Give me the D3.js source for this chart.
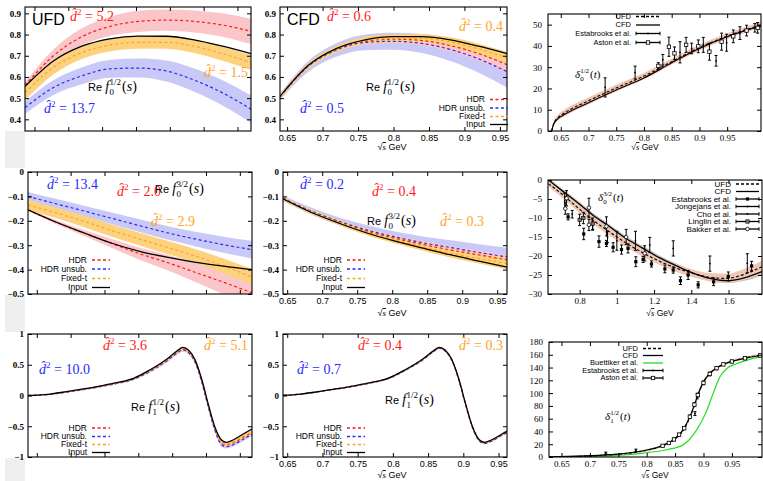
<!DOCTYPE html>
<html>
<head>
<meta charset="utf-8">
<script src="https://cdn.jsdelivr.net/npm/d3@7"></script>
<style>
body { margin: 0; background: #fff; }
svg { display: block; }
</style>
</head>
<body>
<div id="chart"></div>
<script>
// ---------- data: Re f0^1/2, UFD (top left) ----------
var p1X = [0.636, 0.678, 0.72, 0.761, 0.803, 0.845, 0.886, 0.928, 0.97];
var p1Input = [0.555, 0.675, 0.745, 0.78, 0.793, 0.792, 0.775, 0.745, 0.71];
var p1HDR = [0.56, 0.70, 0.79, 0.838, 0.862, 0.868, 0.862, 0.845, 0.815];
var p1HDRerr = [0.015, 0.03, 0.04, 0.045, 0.05, 0.05, 0.052, 0.055, 0.06];
var p1Unsub = [0.455, 0.55, 0.605, 0.638, 0.642, 0.628, 0.585, 0.525, 0.448];
var p1UnsubErr = [0.03, 0.035, 0.04, 0.042, 0.045, 0.05, 0.055, 0.06, 0.065];
var p1Fixed = [0.525, 0.645, 0.715, 0.75, 0.763, 0.763, 0.745, 0.71, 0.668];
var p1FixedErr = [0.035, 0.033, 0.03, 0.03, 0.03, 0.03, 0.032, 0.034, 0.035];

// ---------- Re f0^1/2, CFD (top middle) ----------
var p2X = [0.64, 0.68, 0.72, 0.76, 0.80, 0.84, 0.88, 0.92, 0.96];
var p2Input = [0.508, 0.655, 0.735, 0.775, 0.79, 0.79, 0.775, 0.745, 0.71];
var p2HDR = [0.506, 0.652, 0.73, 0.768, 0.778, 0.772, 0.748, 0.71, 0.658];
var p2HDRerr = [0.008, 0.01, 0.012, 0.015, 0.018, 0.022, 0.028, 0.034, 0.04];
var p2Unsub = [0.505, 0.65, 0.728, 0.763, 0.768, 0.758, 0.73, 0.685, 0.625];
var p2UnsubErr = [0.015, 0.025, 0.032, 0.037, 0.04, 0.045, 0.055, 0.065, 0.075];
var p2Fixed = [0.504, 0.652, 0.732, 0.772, 0.782, 0.782, 0.765, 0.732, 0.69];
var p2FixedErr = [0.01, 0.012, 0.015, 0.017, 0.018, 0.02, 0.022, 0.025, 0.028];

// ---------- Re f0^3/2, UFD (middle left) ----------
var p4X = [0.637, 0.678, 0.72, 0.761, 0.802, 0.844, 0.885, 0.926, 0.968];
var p4Input = [-0.155, -0.205, -0.25, -0.292, -0.325, -0.35, -0.37, -0.386, -0.4];
var p4HDR = [-0.155, -0.205, -0.25, -0.293, -0.335, -0.372, -0.412, -0.452, -0.495];
var p4HDRerr = [0.005, 0.008, 0.012, 0.018, 0.025, 0.032, 0.04, 0.05, 0.06];
var p4Unsub = [-0.1, -0.13, -0.16, -0.19, -0.22, -0.25, -0.275, -0.298, -0.318];
var p4UnsubErr = [0.018, 0.02, 0.022, 0.024, 0.026, 0.028, 0.03, 0.033, 0.036];
var p4Fixed = [-0.135, -0.167, -0.202, -0.24, -0.275, -0.31, -0.345, -0.385, -0.43];
var p4FixedErr = [0.022, 0.022, 0.024, 0.025, 0.026, 0.027, 0.028, 0.03, 0.032];

// ---------- Re f0^3/2, CFD (middle middle) ----------
var p5X = [0.644, 0.684, 0.724, 0.764, 0.804, 0.844, 0.884, 0.924, 0.964];
var p5Input = [-0.11, -0.165, -0.21, -0.25, -0.283, -0.312, -0.34, -0.365, -0.39];
var p5HDR = [-0.108, -0.162, -0.205, -0.243, -0.272, -0.297, -0.32, -0.34, -0.36];
var p5HDRerr = [0.005, 0.006, 0.008, 0.01, 0.012, 0.014, 0.016, 0.018, 0.02];
var p5Unsub = [-0.108, -0.16, -0.202, -0.238, -0.266, -0.29, -0.31, -0.33, -0.348];
var p5UnsubErr = [0.012, 0.014, 0.016, 0.02, 0.022, 0.026, 0.03, 0.034, 0.038];
var p5Fixed = [-0.11, -0.163, -0.207, -0.247, -0.279, -0.307, -0.333, -0.355, -0.375];
var p5FixedErr = [0.008, 0.009, 0.01, 0.012, 0.014, 0.016, 0.018, 0.02, 0.024];

// ---------- Re f1^1/2 (bottom left = UFD, bottom middle = CFD) ----------
var f1X = [0.637, 0.67, 0.694, 0.719, 0.743, 0.768, 0.793, 0.817, 0.842, 0.856, 0.866, 0.874, 0.884, 0.894, 0.903, 0.913, 0.923, 0.93, 0.94, 0.955, 0.968];
var f1Input = [0, 0.024, 0.062, 0.106, 0.154, 0.208, 0.28, 0.415, 0.589, 0.713, 0.784, 0.74, 0.577, 0.252, -0.127, -0.507, -0.724, -0.762, -0.724, -0.626, -0.545];
var p7HDR = [0, 0.022, 0.058, 0.1, 0.148, 0.2, 0.27, 0.4, 0.57, 0.69, 0.755, 0.71, 0.55, 0.23, -0.15, -0.54, -0.77, -0.8, -0.77, -0.68, -0.6];
var p7Unsub = [0, 0.02, 0.055, 0.097, 0.143, 0.195, 0.265, 0.39, 0.56, 0.68, 0.74, 0.70, 0.54, 0.21, -0.17, -0.56, -0.8, -0.83, -0.8, -0.71, -0.63];
var p7Fixed = [0, 0.023, 0.06, 0.103, 0.15, 0.204, 0.275, 0.405, 0.578, 0.70, 0.765, 0.72, 0.56, 0.24, -0.14, -0.53, -0.76, -0.79, -0.76, -0.665, -0.59];
var p7Err = [0.004, 0.006, 0.008, 0.01, 0.012, 0.014, 0.016, 0.02, 0.025, 0.028, 0.03, 0.03, 0.03, 0.03, 0.03, 0.03, 0.03, 0.03, 0.03, 0.03, 0.03];
var p8HDR = [0, 0.024, 0.061, 0.105, 0.152, 0.206, 0.277, 0.41, 0.582, 0.705, 0.775, 0.733, 0.57, 0.245, -0.135, -0.515, -0.735, -0.772, -0.735, -0.638, -0.558];
var p8Unsub = [0, 0.023, 0.06, 0.103, 0.15, 0.203, 0.273, 0.405, 0.575, 0.698, 0.768, 0.725, 0.562, 0.238, -0.143, -0.522, -0.742, -0.78, -0.742, -0.645, -0.565];
var p8Fixed = [0, 0.024, 0.062, 0.106, 0.154, 0.207, 0.279, 0.413, 0.586, 0.71, 0.78, 0.737, 0.574, 0.249, -0.13, -0.51, -0.728, -0.766, -0.729, -0.63, -0.55];
var p8Err = [0.003, 0.004, 0.005, 0.006, 0.007, 0.008, 0.009, 0.01, 0.012, 0.014, 0.015, 0.015, 0.015, 0.015, 0.015, 0.015, 0.015, 0.015, 0.015, 0.015, 0.015];

// ---------- delta0^1/2 phase (top right) ----------
var p3X = [0.6335, 0.637, 0.645, 0.655, 0.70, 0.75, 0.80, 0.85, 0.90, 0.95, 1.011];
var p3CFD = [0, 3.0, 5.8, 7.5, 13.3, 19.3, 24.9, 32.1, 38.8, 44.3, 49.4];
var p3UFD = [0, 3.3, 6.3, 8.2, 14.2, 20.2, 25.8, 32.6, 39.2, 44.6, 49.8];
var p3Err = [0.3, 1, 1.3, 1.5, 1.6, 1.6, 1.5, 1.4, 1.3, 1.3, 1.3];
var p3Estab = [[0.73, 20.5, 4.5], [0.784, 27.5, 3], [0.834, 33.5, 2.5], [0.865, 37, 5], [0.886, 38.8, 2.5], [0.907, 40.5, 3.5], [0.93, 33, 2.5], [0.949, 41.5, 4], [0.973, 46, 3], [1.0, 48.5, 2]];
var p3Aston = [[0.826, 30.6, 1.5], [0.845, 39.6, 4.5], [0.855, 36.5, 3], [0.876, 40.5, 3.5], [0.898, 39.8, 3], [0.918, 37.3, 4], [0.94, 42, 4], [0.961, 44.5, 3], [0.985, 47.2, 2.5], [1.005, 48.5, 2.5]];

// ---------- delta0^3/2 phase (middle right) ----------
var p6X = [0.633, 0.7, 0.783, 0.87, 0.962, 1.05, 1.141, 1.23, 1.321, 1.41, 1.5, 1.59, 1.68, 1.78];
var p6CFD = [0, -2.6, -5.7, -9.2, -12.3, -15.4, -18, -20.5, -22.6, -24.5, -25.9, -26.5, -25.8, -24.1];
var p6UFD = [-1.0, -3.5, -7, -10.5, -13.7, -16.6, -19.2, -21.4, -23.2, -24.6, -25.6, -25.9, -24.9, -22.8];
var p6Err = [0.8, 0.9, 1, 1, 1, 1, 1, 1, 1, 1, 1.1, 1.2, 1.4, 1.6];
var p6GreyErr = [0.5, 0.5, 0.6, 0.6, 0.6, 0.6, 0.6, 0.6, 0.6, 0.6, 0.7, 0.7, 0.8, 1.0];
var p6Estab = [[0.738, -9.7, 0.8], [0.822, -14.2, 1.5], [0.904, -16.2, 1.5], [0.944, -16.7, 0.8], [0.98, -17.7, 1.2], [1.025, -18.3, 1.2], [1.06, -18, 1.2], [1.102, -21.5, 1.3], [1.141, -20.9, 0.8], [1.186, -22.1, 0.8], [1.258, -23.4, 1], [1.303, -23.7, 0.8], [1.342, -26.5, 1], [1.383, -25, 1.2], [1.437, -27.6, 0.8], [1.52, -26.8, 1], [1.599, -25.4, 1.2], [1.724, -22.6, 1.2]];
var p6Jong = [[0.72, -5.5, 2], [1.0, -16, 2.5], [1.1, -16, 2.5], [1.177, -17.1, 2], [1.303, -18, 2], [1.5, -22, 2], [1.701, -21.9, 2.5]];
var p6Cho = [[0.76, -9, 1], [0.87, -12, 1.2], [0.95, -15, 1.5]];
var p6Linglin = [[0.8, -10.5, 1.5], [0.82, -10, 1.5], [0.87, -11.5, 1.5]];
var p6Bakker = [[0.723, -7.5, 1.5], [0.73, -4.8, 2], [0.85, -7.3, 2.5], [0.85, -11.8, 1.5], [0.944, -12.2, 2.5], [1.05, -15, 2], [1.15, -19.3, 2]];

// ---------- delta1^1/2 phase (bottom right) ----------
var p9X = [0.628, 0.735, 0.794, 0.823, 0.847, 0.864, 0.876, 0.885, 0.891, 0.9, 0.911, 0.926, 0.947, 0.97, 1.003];
var p9CFD = [0, 3.6, 9.8, 16.5, 27, 42.5, 63.2, 84, 99.6, 117.7, 130.8, 141, 148.8, 154, 159.3];
var p9UFD = [0, 3.4, 9.5, 16, 26.2, 41.5, 62, 83, 98.5, 117, 130.5, 141, 149, 154.5, 160];
var p9Err = [0.5, 1, 1.5, 2, 2, 2.5, 3, 3, 3, 3, 2.5, 2, 2, 2, 2];
var p9GreenX = [0.628, 0.7, 0.794, 0.835, 0.864, 0.888, 0.905, 0.917, 0.929, 0.941, 0.958, 0.98, 1.003];
var p9Green = [0, 0.8, 6.2, 11.4, 19, 42.5, 71, 99.6, 125.5, 138.6, 146, 152.5, 157.5];
var p9Estab = [[0.728, 6.2, 1.5], [0.781, 10.3, 2], [0.885, 68, 3], [0.889, 95, 4]];
var p9Aston = [[0.828, 17.5, 1.5], [0.839, 22, 1.5], [0.848, 27.5, 2], [0.857, 35, 2], [0.866, 45, 2], [0.876, 63, 2.5], [0.884, 82, 3], [0.89, 97, 3], [0.9, 116, 3], [0.911, 130, 3], [0.923, 139, 2.5], [0.935, 145, 2], [0.95, 149.5, 2], [0.973, 154.5, 2], [1.0, 159, 2]];

// ---------- colours ----------
var cRed = "#ff1a1a", cBlue = "#2a2aff", cOrange = "#ffa526";
var bRed = "#fbc6c9", bBlue = "#c9c9f8", bOrange = "#fdd27e";

var W = 763, H = 481;
var svg = d3.select("#chart").append("svg").attr("width", W).attr("height", H);
svg.append("rect").attr("width", W).attr("height", H).attr("fill", "#fff");
// light grey strip at the left edge, seen between the rows
[[131, 168], [295, 332], [458, 481]].forEach(function (r) {
  svg.append("rect").attr("x", 5).attr("y", r[0]).attr("width", 20).attr("height", r[1] - r[0]).attr("fill", "#eef0f0");
});

var fmt = d3.format("~g");

function panel(id, frame, xDom, yDom, xTicks, yTicks, opt) {
  var x = d3.scaleLinear().domain(xDom).range([frame[0], frame[2]]);
  var y = d3.scaleLinear().domain(yDom).range([frame[3], frame[1]]);
  var g = svg.append("g");
  g.append("clipPath").attr("id", "clip" + id).append("rect")
    .attr("x", frame[0]).attr("y", frame[1])
    .attr("width", frame[2] - frame[0]).attr("height", frame[3] - frame[1]);
  var plot = g.append("g").attr("clip-path", "url(#clip" + id + ")");
  var axes = g.append("g");

  var bottom = axes.append("g").attr("transform", "translate(0," + frame[3] + ")")
    .call(d3.axisBottom(x).tickValues(xTicks).tickSize(-4).tickPadding(opt.xPad)
      .tickFormat(opt.xLabels ? fmt : ""));
  var top = axes.append("g").attr("transform", "translate(0," + frame[1] + ")")
    .call(d3.axisTop(x).tickValues(xTicks).tickSize(-4).tickFormat(""));
  var left = axes.append("g").attr("transform", "translate(" + frame[0] + ",0)")
    .call(d3.axisLeft(y).tickValues(yTicks).tickSize(-4).tickPadding(opt.yPad).tickFormat(fmt));
  var right = axes.append("g").attr("transform", "translate(" + frame[2] + ",0)")
    .call(d3.axisRight(y).tickValues(yTicks).tickSize(-4).tickFormat(""));
  axes.selectAll(".domain").remove();
  axes.selectAll(".tick line").attr("stroke", "#000");
  bottom.attr("font-family", opt.xFont).attr("font-size", opt.xSize).attr("font-weight", "normal");
  left.attr("font-family", opt.yFont).attr("font-size", opt.ySize).attr("font-weight", opt.yWeight);
  axes.selectAll("text").attr("fill", "#000");

  axes.append("rect").attr("x", frame[0]).attr("y", frame[1])
    .attr("width", frame[2] - frame[0]).attr("height", frame[3] - frame[1])
    .attr("fill", "none").attr("stroke", "#000").attr("stroke-width", 1.1);
  return { x: x, y: y, plot: plot };
}

function band(p, xs, vs, hw, color) {
  var rows = xs.map(function (d, i) { return { x: d, v: vs[i], h: hw[i] }; });
  p.plot.append("path").datum(rows).attr("fill", color)
    .attr("d", d3.area().curve(d3.curveMonotoneX)
      .x(function (d) { return p.x(d.x); })
      .y0(function (d) { return p.y(d.v - d.h); })
      .y1(function (d) { return p.y(d.v + d.h); }));
}

function line(p, xs, vs, color, dash, w) {
  var rows = xs.map(function (d, i) { return { x: d, v: vs[i] }; });
  p.plot.append("path").datum(rows).attr("fill", "none")
    .attr("stroke", color).attr("stroke-width", w || 1.2)
    .attr("stroke-dasharray", dash || null)
    .attr("d", d3.line().curve(d3.curveMonotoneX)
      .x(function (d) { return p.x(d.x); })
      .y(function (d) { return p.y(d.v); }));
}

function points(p, data, kind) {
  var g = p.plot.append("g");
  data.forEach(function (d) {
    var cx = p.x(d[0]), cy = p.y(d[1]), y1 = p.y(d[1] - d[2]), y2 = p.y(d[1] + d[2]);
    g.append("line").attr("x1", cx).attr("x2", cx).attr("y1", y1).attr("y2", y2)
      .attr("stroke", "#000").attr("stroke-width", 1);
    g.append("line").attr("x1", cx - 1.5).attr("x2", cx + 1.5).attr("y1", y1).attr("y2", y1).attr("stroke", "#000");
    g.append("line").attr("x1", cx - 1.5).attr("x2", cx + 1.5).attr("y1", y2).attr("y2", y2).attr("stroke", "#000");
    marker(g, cx, cy, kind);
  });
}

function marker(g, cx, cy, kind) {
  if (kind === "fsq") {
    g.append("rect").attr("x", cx - 1.6).attr("y", cy - 1.6).attr("width", 3.2).attr("height", 3.2).attr("fill", "#000");
  } else if (kind === "osq") {
    g.append("rect").attr("x", cx - 1.7).attr("y", cy - 1.7).attr("width", 3.4).attr("height", 3.4)
      .attr("fill", "#fff").attr("stroke", "#000").attr("stroke-width", 0.8);
  } else if (kind === "ocirc") {
    g.append("circle").attr("cx", cx).attr("cy", cy).attr("r", 1.8)
      .attr("fill", "#fff").attr("stroke", "#000").attr("stroke-width", 0.8);
  } else if (kind === "gsq") {
    g.append("rect").attr("x", cx - 1.7).attr("y", cy - 1.7).attr("width", 3.4).attr("height", 3.4)
      .attr("fill", "#777").attr("stroke", "#000").attr("stroke-width", 0.6);
  } else if (kind === "dot") {
    g.append("circle").attr("cx", cx).attr("cy", cy).attr("r", 0.9).attr("fill", "#000");
  }
}

// d-hat squared label
function dHat(x, y, color, val) {
  var t = svg.append("text").attr("x", x).attr("y", y).attr("fill", color)
    .attr("font-family", "Liberation Serif, serif").attr("font-size", 14);
  t.append("tspan").attr("font-style", "italic").text("d\u0302");
  t.append("tspan").attr("font-size", 9).attr("dy", -6).text("2");
  t.append("tspan").attr("dy", 6).text(" = " + val);
}

// Re f_l^I(s) label
function reLabel(x, y, sub, sup) {
  var t = svg.append("text").attr("x", x).attr("y", y).attr("fill", "#000");
  t.append("tspan").attr("font-family", "Liberation Sans, sans-serif").attr("font-size", 11).text("Re ");
  t.append("tspan").attr("font-family", "Liberation Serif, serif").attr("font-style", "italic").attr("font-size", 14).text("f");
  var w = t.node().getComputedTextLength();
  svg.append("text").attr("x", x + w + 0.5).attr("y", y + 3.5)
    .attr("font-family", "Liberation Serif, serif").attr("font-size", 9).text(sub);
  var s = svg.append("text").attr("x", x + w + 0.5).attr("y", y - 6)
    .attr("font-family", "Liberation Serif, serif").attr("font-size", 9).text(sup);
  var w2 = s.node().getComputedTextLength();
  var a = svg.append("text").attr("x", x + w + w2 + 1.5).attr("y", y)
    .attr("font-family", "Liberation Serif, serif").attr("font-size", 14);
  a.append("tspan").text("(");
  a.append("tspan").attr("font-style", "italic").text("s");
  a.append("tspan").text(")");
}

// delta_l^I(t) label
function deltaLabel(x, y, sub, sup) {
  var t = svg.append("text").attr("x", x).attr("y", y)
    .attr("font-family", "Liberation Serif, serif").attr("font-style", "italic").attr("font-size", 11).text("\u03B4");
  var w = t.node().getComputedTextLength();
  svg.append("text").attr("x", x + w).attr("y", y + 3)
    .attr("font-family", "Liberation Serif, serif").attr("font-size", 7).text(sub);
  var s = svg.append("text").attr("x", x + w).attr("y", y - 5)
    .attr("font-family", "Liberation Serif, serif").attr("font-size", 7).text(sup);
  var w2 = s.node().getComputedTextLength();
  var a = svg.append("text").attr("x", x + w + w2 + 1).attr("y", y)
    .attr("font-family", "Liberation Serif, serif").attr("font-size", 11);
  a.append("tspan").text("(");
  a.append("tspan").attr("font-style", "italic").text("t");
  a.append("tspan").text(")");
}

function sqrtLabel(cx, y, size) {
  var t = svg.append("text").attr("x", cx).attr("y", y).attr("text-anchor", "middle")
    .attr("font-family", "Liberation Sans, sans-serif").attr("font-size", size);
  t.append("tspan").text("\u221A");
  t.append("tspan").attr("text-decoration", "overline").attr("font-family", "Liberation Serif, serif")
    .attr("font-style", "italic").text("s");
  t.append("tspan").text(" GeV");
}

function bigLabel(x, y, txt) {
  svg.append("text").attr("x", x).attr("y", y).attr("font-family", "Liberation Sans, sans-serif")
    .attr("font-size", 16).text(txt);
}

var legItems = [["HDR", cRed, "3,2.5"], ["HDR unsub.", cBlue, "3,2.5"], ["Fixed-t", cOrange, "3,2.5"], ["Input", "#000", null]];
function legend(xr, ys, items, size, len) {
  items.forEach(function (it, i) {
    svg.append("text").attr("x", xr).attr("y", ys[i] + size * 0.33).attr("text-anchor", "end")
      .attr("font-family", "Liberation Sans, sans-serif").attr("font-size", size).text(it[0]);
    var x1 = xr + 5, x2 = xr + 5 + len;
    svg.append("line").attr("x1", x1).attr("x2", x2).attr("y1", ys[i]).attr("y2", ys[i])
      .attr("stroke", it[1]).attr("stroke-width", 1.3).attr("stroke-dasharray", it[2]);
    if (it[3]) {
      var g = svg.append("g");
      g.append("line").attr("x1", x1).attr("x2", x1).attr("y1", ys[i] - 1.8).attr("y2", ys[i] + 1.8).attr("stroke", "#000");
      g.append("line").attr("x1", x2).attr("x2", x2).attr("y1", ys[i] - 1.8).attr("y2", ys[i] + 1.8).attr("stroke", "#000");
      marker(g, (x1 + x2) / 2, ys[i], it[3]);
    }
  });
}

var fTicks = [0.65, 0.7, 0.75, 0.8, 0.85, 0.9, 0.95];
var optL = { xLabels: false, xPad: 3, yPad: 4, xFont: "Liberation Sans, sans-serif", xSize: 9,
  yFont: "Liberation Serif, serif", ySize: 9, yWeight: "bold" };
var optM = { xLabels: true, xPad: 4, yPad: 4, xFont: "Liberation Sans, sans-serif", xSize: 9,
  yFont: "Liberation Serif, serif", ySize: 9, yWeight: "bold" };
var optR = { xLabels: true, xPad: 4, yPad: 6, xFont: "Liberation Serif, serif", xSize: 9,
  yFont: "Liberation Serif, serif", ySize: 9, yWeight: "normal" };

function ampPanel(p, xs, inp, hdr, hdrE, uns, unsE, fix, fixE) {
  band(p, xs, uns, unsE, bBlue);
  band(p, xs, hdr, hdrE, bRed);
  band(p, xs, fix, fixE, bOrange);
  line(p, xs, hdr, cRed, "3,2.5");
  line(p, xs, uns, cBlue, "3,2.5");
  line(p, xs, fix, cOrange, "3,2.5");
  line(p, xs, inp, "#000", null, 1.3);
}

// ----- row 1 -----
var y1Ticks = [0.4, 0.5, 0.6, 0.7, 0.8, 0.9];
var P1 = panel(1, [25, 7, 251, 131], [0.636, 0.97], [0.345, 0.93], fTicks, y1Ticks, optL);
ampPanel(P1, p1X, p1Input, p1HDR, p1HDRerr, p1Unsub, p1UnsubErr, p1Fixed, p1FixedErr);
var P2 = panel(2, [280, 7, 507, 131], [0.64, 0.96], [0.345, 0.93], fTicks, y1Ticks, optM);
ampPanel(P2, p2X, p2Input, p2HDR, p2HDRerr, p2Unsub, p2UnsubErr, p2Fixed, p2FixedErr);

var P3 = panel(3, [548, 14, 761, 131], [0.627, 1.011], [0, 55], fTicks, [0, 10, 20, 30, 40, 50], optR);
band(P3, p3X, p3UFD, p3Err, "#f1c3b1");
line(P3, p3X, p3UFD, "#000", "3,2", 1.1);
line(P3, p3X, p3CFD, "#000", null, 1.2);
points(P3, p3Estab, "dot");
points(P3, p3Aston, "osq");

// ----- row 2 -----
var y2Ticks = [-0.5, -0.4, -0.3, -0.2, -0.1, 0];
var P4 = panel(4, [28, 172, 252, 294], [0.637, 0.968], [-0.5, 0], fTicks, y2Ticks, optL);
ampPanel(P4, p4X, p4Input, p4HDR, p4HDRerr, p4Unsub, p4UnsubErr, p4Fixed, p4FixedErr);
var P5 = panel(5, [283, 172, 507, 294], [0.644, 0.964], [-0.5, 0], fTicks, y2Ticks, optM);
ampPanel(P5, p5X, p5Input, p5HDR, p5HDRerr, p5Unsub, p5UnsubErr, p5Fixed, p5FixedErr);

var P6 = panel(6, [548, 180, 762, 294], [0.63, 1.78], [-30, 0], [0.8, 1, 1.2, 1.4, 1.6],
  [-30, -25, -20, -15, -10, -5, 0], optR);
band(P6, p6X, p6CFD, p6GreyErr, "#c4c4c4");
band(P6, p6X, p6UFD, p6Err, "#f0c6b4");
line(P6, p6X, p6UFD, "#000", "3,2", 1.1);
line(P6, p6X, p6CFD, "#000", null, 1.3);
points(P6, p6Estab, "fsq");
points(P6, p6Jong, "dot");
points(P6, p6Cho, "dot");
points(P6, p6Linglin, "gsq");
points(P6, p6Bakker, "ocirc");

// ----- row 3 -----
var y3Ticks = [-1, -0.5, 0, 0.5, 1];
var P7 = panel(7, [28, 334, 252, 457], [0.637, 0.968], [-1, 1], fTicks, y3Ticks, optL);
ampPanel(P7, f1X, f1Input, p7HDR, p7Err, p7Unsub, p7Err, p7Fixed, p7Err);
var P8 = panel(8, [283, 334, 507, 457], [0.644, 0.962], [-1, 1], fTicks, y3Ticks, optM);
ampPanel(P8, f1X, f1Input, p8HDR, p8Err, p8Unsub, p8Err, p8Fixed, p8Err);

var P9 = panel(9, [549, 342, 762, 457], [0.628, 1.003], [0, 180], fTicks,
  [0, 20, 40, 60, 80, 100, 120, 140, 160, 180], optR);
band(P9, p9X, p9UFD, p9Err, "#f1c9b8");
line(P9, p9GreenX, p9Green, "#22dd22", null, 1.2);
line(P9, p9X, p9UFD, "#000", "3,2", 1.1);
line(P9, p9X, p9CFD, "#000", null, 1.2);
points(P9, p9Estab, "dot");
points(P9, p9Aston, "osq");

// ----- text -----
bigLabel(32, 25, "UFD");
dHat(70, 21, cRed, "5.2");
dHat(204, 77, cOrange, "1.5");
dHat(44, 113, cBlue, "13.7");
reLabel(88, 91, "0", "1/2");

bigLabel(287, 25, "CFD");
dHat(327, 21, cRed, "0.6");
dHat(459, 31, cOrange, "0.4");
dHat(300, 113, cBlue, "0.5");
reLabel(366, 91, "0", "1/2");
legend(485, [99.5, 108, 116.5, 124.5], legItems, 8.5, 18);
sqrtLabel(392, 150, 9);

dHat(47, 189, cBlue, "13.4");
dHat(117, 196, cRed, "2.0");
reLabel(155, 193, "0", "3/2");
dHat(151, 226, cOrange, "2.9");
legend(87, [260, 269, 278.5, 287.5], legItems, 8.5, 18);

dHat(300, 189, cBlue, "0.2");
dHat(372, 196, cRed, "0.4");
reLabel(367, 225, "0", "3/2");
dHat(440, 226, cOrange, "0.3");
legend(342, [260, 269, 278.5, 287.5], legItems, 8.5, 18);
sqrtLabel(392, 316, 9);

dHat(103, 350, cRed, "3.6");
dHat(204, 350, cOrange, "5.1");
dHat(39, 374, cBlue, "10.0");
reLabel(131, 411, "1", "1/2");
legend(87, [428, 436.5, 444.5, 452.5], legItems, 8.5, 18);

dHat(358, 350, cRed, "0.4");
dHat(459, 350, cOrange, "0.3");
dHat(297, 374, cBlue, "0.7");
reLabel(385, 404, "1", "1/2");
legend(342, [428, 436.5, 444.5, 452.5], legItems, 8.5, 18);
sqrtLabel(392, 478, 9);

// right column
deltaLabel(575, 78, "0", "1/2");
legend(631, [16.5, 25, 33.5, 42.5], [["UFD", "#000", "3,2"], ["CFD", "#000", null],
  ["Estabrooks et al.", "#000", null, "dot"], ["Aston et al.", "#000", null, "osq"]], 7.5, 24);
sqrtLabel(645, 150, 8.5);

deltaLabel(598, 201, "0", "3/2");
legend(731, [184, 191.5, 199, 206.5, 214, 221.5, 229], [["UFD", "#000", "3,2"], ["CFD", "#000", null],
  ["Estabrooks et al.", "#000", null, "fsq"], ["Jongejans et al.", "#000", null, "dot"],
  ["Cho et al.", "#000", null, "dot"], ["Linglin et al.", "#000", null, "gsq"],
  ["Bakker et al.", "#000", null, "ocirc"]], 8, 23);
sqrtLabel(660, 316, 8.5);

deltaLabel(605, 420, "1", "1/2");
legend(638, [348.5, 355.5, 363, 370.5, 378], [["UFD", "#000", "3,2"], ["CFD", "#000", null],
  ["Buettiker et al.", "#22dd22", null], ["Estabrooks et al.", "#000", null, "dot"],
  ["Aston et al.", "#000", null, "osq"]], 7.5, 20);
sqrtLabel(655, 478, 8.5);
</script>
</body>
</html>
